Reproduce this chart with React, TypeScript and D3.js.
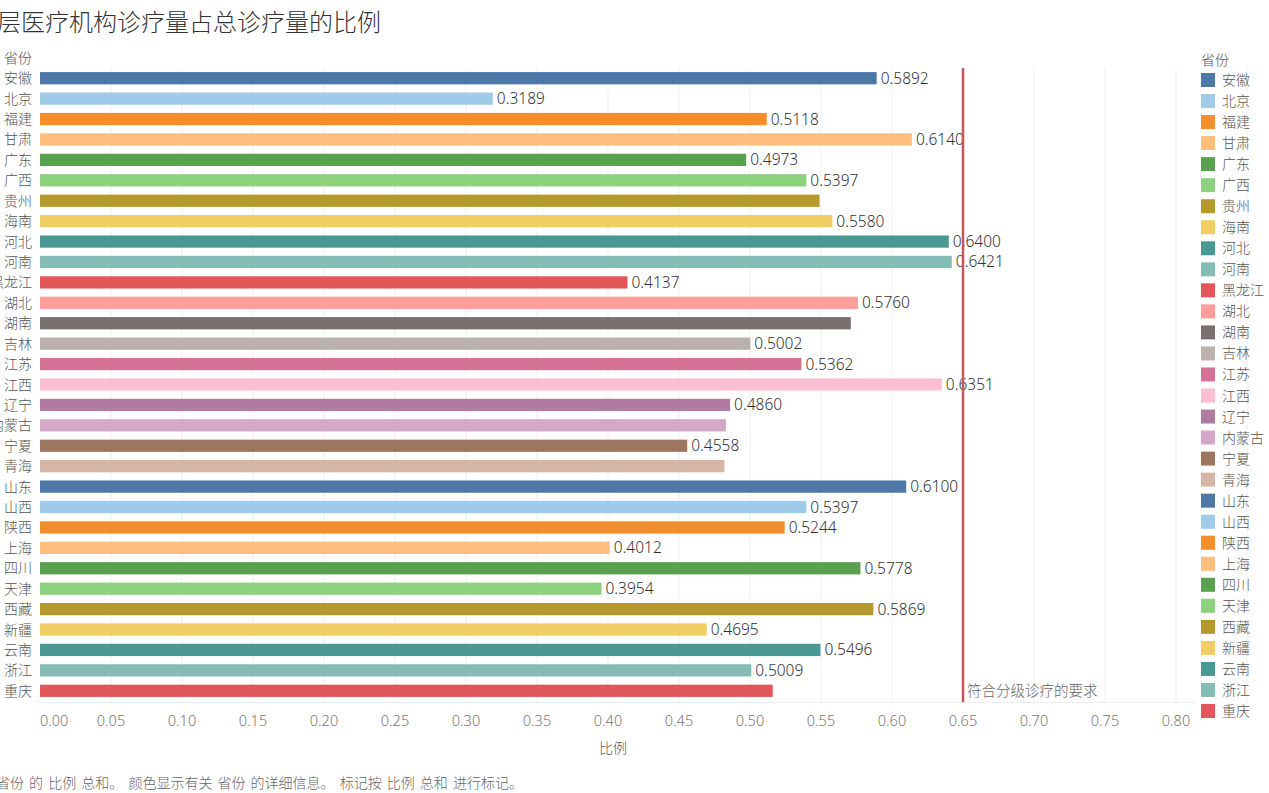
import React from "react";
import * as d3 from "d3";

const provinces = ["安徽","北京","福建","甘肃","广东","广西","贵州","海南","河北","河南","黑龙江","湖北","湖南","吉林","江苏","江西","辽宁","内蒙古","宁夏","青海","山东","山西","陕西","上海","四川","天津","西藏","新疆","云南","浙江","重庆"];
const ratios = [0.5892,0.3189,0.5118,0.6140,0.4973,0.5397,0.549,0.5580,0.6400,0.6421,0.4137,0.5760,0.571,0.5002,0.5362,0.6351,0.4860,0.483,0.4558,0.482,0.6100,0.5397,0.5244,0.4012,0.5778,0.3954,0.5869,0.4695,0.5496,0.5009,0.516];
const labelShown = [true,true,true,true,true,true,false,true,true,true,true,true,false,true,true,true,true,false,true,false,true,true,true,true,true,true,true,true,true,true,false];
const palette = ["#4E79A7","#A0CBE8","#F28E2B","#FFBE7D","#59A14F","#8CD17D","#B6992D","#F1CE63","#499894","#86BCB6","#E15759","#FF9D9A","#79706E","#BAB0AC","#D37295","#FABFD2","#B07AA1","#D4A6C8","#9D7660","#D7B5A6"];
const xTicks = [0,0.05,0.1,0.15,0.2,0.25,0.3,0.35,0.4,0.45,0.5,0.55,0.6,0.65,0.7,0.75,0.8];
const refValue = 0.65;
const refLabel = "符合分级诊疗的要求";
const title = "基层医疗机构诊疗量占总诊疗量的比例";
const footer = "省份 的 比例 总和。 颜色显示有关 省份 的详细信息。 标记按 比例 总和 进行标记。";

const FONT = "'Noto Sans CJK SC', 'Noto Sans', sans-serif";
const NUMFONT = "'Noto Sans', 'Noto Sans CJK SC', sans-serif";

export default function App() {
  const W = 1269, H = 793;
  const x = d3.scaleLinear().domain([0, 1]).range([40, 1460]);
  const y = d3.scaleBand<string>().domain(provinces).range([68, 701]).paddingInner(0.4).paddingOuter(0.2);
  const color = d3.scaleOrdinal<string, string>().domain(provinces).range(palette);
  const legendY = d3.scaleLinear().domain([0, provinces.length - 1]).range([80, 711]);
  const fmt = d3.format(".4f");
  return (
    <svg width={W} height={H} style={{ position: "absolute", left: 0, top: 0, background: "#fff", fontFamily: FONT }}>
      <text x={-27} y={31} fontSize={24} fill="#333" fontWeight={300}>{title}</text>
      <text x={4} y={63} fontSize={14} fill="#555" fontWeight={300}>省份</text>
      {xTicks.slice(1).map((t) => (
        <line key={"g" + t} x1={x(t)} x2={x(t)} y1={68} y2={702} stroke="#efefef" strokeWidth={1} />
      ))}
      <line x1={x(0.85)} x2={x(0.85)} y1={68} y2={702} stroke="#efefef" />
      <line x1={38} x2={1195} y1={702.5} y2={702.5} stroke="#eee" />
      {provinces.map((p, i) => {
        const yy = y(p)!;
        const bh = y.bandwidth();
        return (
          <g key={p}>
            <text x={32} y={yy + bh / 2 + 5} fontSize={14} fill="#555" textAnchor="end" fontWeight={300}>{p}</text>
            <rect x={x(0)} y={yy} width={x(ratios[i]) - x(0)} height={bh} fill={color(p)} />
            {labelShown[i] && (
              <text x={x(ratios[i]) + 4} y={yy + bh / 2 + 5.5} fontSize={15.5} fill="#333" fontFamily={NUMFONT} fontWeight={300}>{fmt(ratios[i])}</text>
            )}
          </g>
        );
      })}
      <line x1={x(refValue)} x2={x(refValue)} y1={68} y2={702} stroke="#C9545C" strokeWidth={2.5} />
      <text x={x(refValue) + 4} y={696} fontSize={14.5} fill="#666" fontWeight={300}>{refLabel}</text>
      {xTicks.map((t, i) => (
        <text key={"t" + t} x={x(t)} y={726} fontSize={14.5} fill="#777" fontFamily={NUMFONT} fontWeight={300} textAnchor={i === 0 ? "start" : "middle"}>
          {d3.format(".2f")(t)}
        </text>
      ))}
      <text x={613} y={753} fontSize={14} fill="#555" textAnchor="middle" fontWeight={300}>比例</text>
      <text x={-4} y={788} fontSize={14} fill="#666" wordSpacing={2} fontWeight={300}>{footer}</text>
      <text x={1201} y={65} fontSize={14} fill="#555" fontWeight={300}>省份</text>
      {provinces.map((p, i) => (
        <g key={"l" + p}>
          <rect x={1201} y={legendY(i) - 7} width={14} height={14} fill={color(p)} />
          <text x={1222} y={legendY(i) + 5} fontSize={14} fill="#555" fontWeight={300}>{p}</text>
        </g>
      ))}
    </svg>
  );
}
